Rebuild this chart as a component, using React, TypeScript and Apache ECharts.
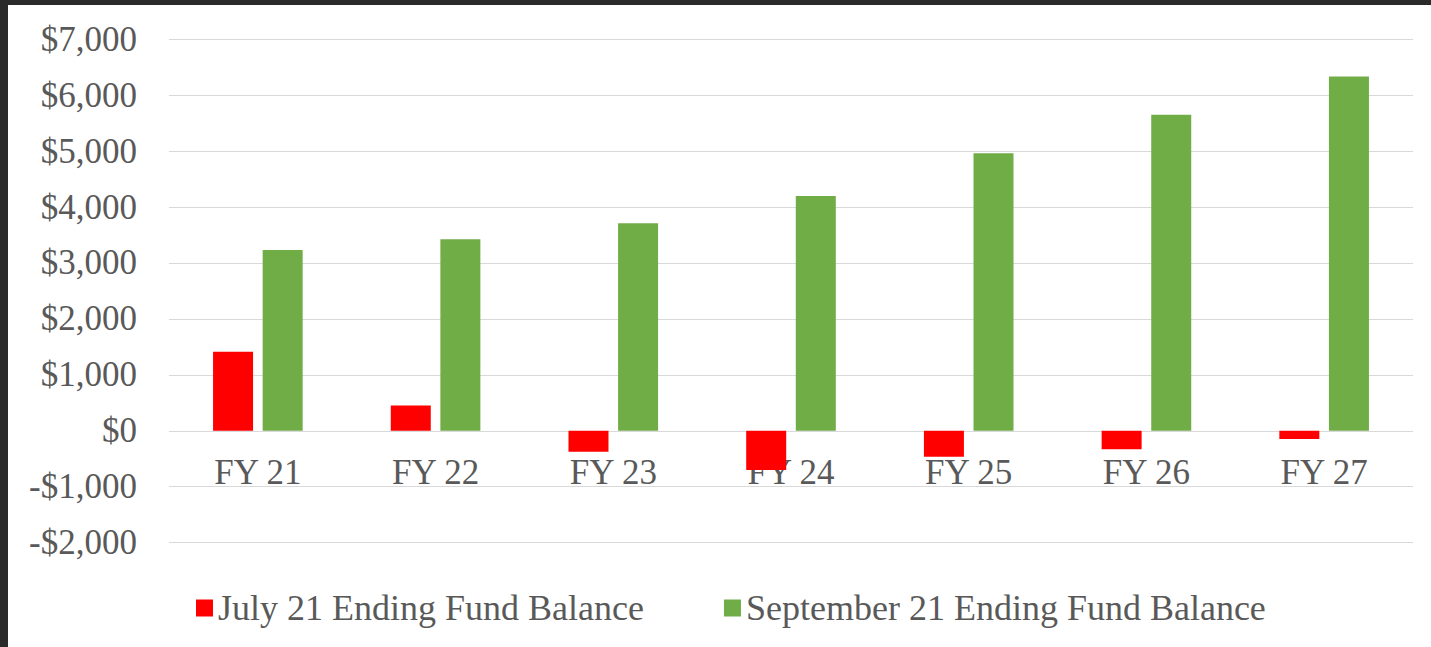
import React, { useEffect, useRef } from "react";
import * as echarts from "echarts";

const categories = ["FY 21", "FY 22", "FY 23", "FY 24", "FY 25", "FY 26", "FY 27"];
const july21 = [1415, 450, -374, -700, -463, -331, -147];
const september21 = [3234, 3426, 3712, 4200, 4964, 5649, 6335];
const seriesNames = ["July 21 Ending Fund Balance", "September 21 Ending Fund Balance"];

const FONT = "'Liberation Serif', 'Times New Roman', serif";
const TEXT = "#595959";

export default function App() {
  const ref = useRef<HTMLDivElement>(null);
  useEffect(() => {
    if (!ref.current) return;
    const chart = echarts.init(ref.current, undefined, { renderer: "svg" });
    chart.setOption({
      animation: false,
      backgroundColor: "#ffffff",
      textStyle: { fontFamily: FONT },
      grid: { left: 161, right: 18, top: 34.3, bottom: 104.4, containLabel: false },
      legend: {
        left: 183,
        top: 580,
        itemWidth: 17,
        itemHeight: 17,
        itemGap: 80,
        icon: "rect",
        textStyle: { fontFamily: FONT, fontSize: 36, color: TEXT },
        data: seriesNames,
      },
      xAxis: {
        type: "category",
        data: categories,
        offset: -111.8,
        axisLine: { onZero: false, show: false },
        axisTick: { show: false },
        axisLabel: { fontFamily: FONT, fontSize: 35, color: TEXT, margin: 24 },
      },
      yAxis: {
        type: "value",
        min: -2000,
        max: 7000,
        interval: 1000,
        axisLine: { show: false },
        axisTick: { show: false },
        splitLine: { lineStyle: { color: "#d9d9d9", width: 1 } },
        axisLabel: {
          fontFamily: FONT,
          fontSize: 35,
          color: TEXT,
          margin: 32,
          formatter: (v: number) => {
            const s = "$" + Math.abs(v).toLocaleString("en-US");
            return v < 0 ? "-" + s : s;
          },
        },
      },
      series: [
        {
          name: seriesNames[0],
          type: "bar",
          data: july21,
          barWidth: 40,
          barGap: "24%",
          itemStyle: { color: "#ff0000" },
        },
        {
          name: seriesNames[1],
          type: "bar",
          data: september21,
          barWidth: 40,
          barGap: "24%",
          itemStyle: { color: "#70ad47" },
        },
      ],
    });
    return () => chart.dispose();
  }, []);
  return (
    <div style={{ position: "fixed", left: 0, top: 0, width: 1431, height: 647, background: "#2a2a2a" }}>
      <div ref={ref} style={{ position: "absolute", left: 8, top: 5, width: 1423, height: 642 }} />
    </div>
  );
}
